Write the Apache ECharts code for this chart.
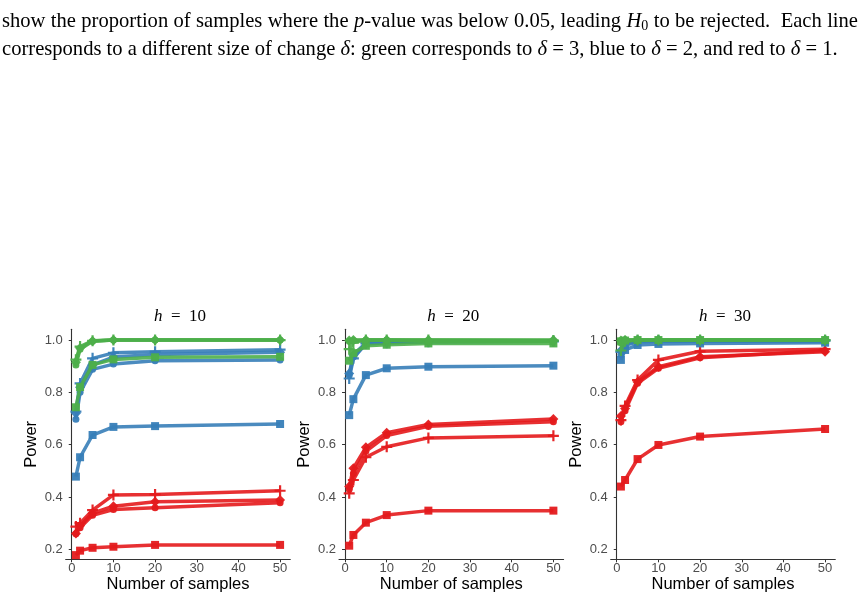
<!DOCTYPE html>
<html>
<head>
<meta charset="utf-8">
<script src="https://cdn.jsdelivr.net/npm/echarts@6/dist/echarts.min.js"></script>
<style>
  html, body { margin: 0; padding: 0; background: #fff; }
  #chart { width: 863px; height: 600px; }
</style>
</head>
<body>
<div id="chart"></div>
<script>
// sample sizes on the x axis
const xs = [1, 2, 5, 10, 20, 50];
const xTicks = [0, 10, 20, 30, 40, 50];
const yTicks = [0.2, 0.4, 0.6, 0.8, 1.0];
const panelTitles = ['10', '20', '30'];
// one line per method: square, plus, diamond, circle

// h = 10
const h10Red = [
    [0.178, 0.195, 0.206, 0.210, 0.217, 0.217],
    [0.287, 0.300, 0.350, 0.408, 0.410, 0.424],
    [0.261, 0.290, 0.338, 0.365, 0.382, 0.389],
    [0.260, 0.283, 0.330, 0.352, 0.359, 0.378]
];
const h10Blue = [
    [0.478, 0.552, 0.637, 0.668, 0.671, 0.679],
    [0.726, 0.834, 0.930, 0.951, 0.955, 0.963],
    [0.720, 0.820, 0.905, 0.935, 0.945, 0.953],
    [0.697, 0.800, 0.888, 0.908, 0.921, 0.924]
];
const h10Green = [
    [0.743, 0.820, 0.905, 0.926, 0.934, 0.936],
    [0.925, 0.975, 0.997, 1.000, 1.000, 1.000],
    [0.915, 0.970, 0.996, 1.000, 1.000, 1.000],
    [0.905, 0.965, 0.995, 1.000, 1.000, 1.000]
];

// h = 20
const h20Red = [
    [0.214, 0.255, 0.302, 0.331, 0.348, 0.348],
    [0.414, 0.465, 0.552, 0.592, 0.626, 0.634],
    [0.440, 0.510, 0.590, 0.646, 0.677, 0.698],
    [0.430, 0.490, 0.575, 0.635, 0.670, 0.688]
];
const h20Blue = [
    [0.713, 0.774, 0.866, 0.892, 0.898, 0.902],
    [0.853, 0.930, 0.987, 0.990, 0.993, 0.995],
    [0.872, 0.943, 0.990, 0.992, 0.995, 0.996],
    [0.865, 0.935, 0.985, 0.990, 0.993, 0.995]
];
const h20Green = [
    [0.921, 0.950, 0.978, 0.982, 0.987, 0.987],
    [0.965, 0.990, 1.000, 1.000, 1.000, 0.998],
    [0.998, 1.000, 1.000, 1.000, 1.000, 1.000],
    [0.995, 0.998, 1.000, 1.000, 0.995, 0.995]
];

// h = 30
const h30Red = [
    [0.440, 0.465, 0.545, 0.599, 0.631, 0.660],
    [0.694, 0.748, 0.847, 0.924, 0.957, 0.965],
    [0.710, 0.738, 0.840, 0.898, 0.936, 0.955],
    [0.688, 0.730, 0.835, 0.892, 0.932, 0.960]
];
const h30Blue = [
    [0.924, 0.962, 0.981, 0.985, 0.987, 0.990],
    [0.955, 0.990, 0.997, 0.998, 0.998, 0.998],
    [0.960, 0.985, 0.995, 0.997, 0.997, 0.997],
    [0.945, 0.980, 0.993, 0.995, 0.996, 0.996]
];
const h30Green = [
    [0.995, 0.998, 1.000, 1.000, 1.000, 1.000],
    [0.960, 0.995, 1.000, 1.000, 1.000, 1.000],
    [0.998, 1.000, 1.000, 1.000, 1.000, 1.000],
    [0.990, 1.000, 1.000, 1.000, 1.000, 1.000]
];

const captionLine1 = [
    ['show the proportion of samples where the ', 'n'], ['p', 'i'],
    ['-value was below 0.05, leading ', 'n'], ['H', 'i'], ['0', 's'],
    [' to be rejected.  Each line', 'n']
];
const captionLine2 = [
    ['corresponds to a different size of change ', 'n'], ['δ', 'i'],
    [': green corresponds to ', 'n'], ['δ', 'i'], [' = 3, blue to ', 'n'], ['δ', 'i'],
    [' = 2, and red to ', 'n'], ['δ', 'i'], [' = 1.', 'n']
];

const panels = [
    { title: panelTitles[0], red: h10Red, blue: h10Blue, green: h10Green },
    { title: panelTitles[1], red: h20Red, blue: h20Blue, green: h20Green },
    { title: panelTitles[2], red: h30Red, blue: h30Blue, green: h30Green }
];

const colors = { red: '#E41A1C', blue: '#377EB8', green: '#4DAF4A' };
const plusPath = 'path://M4,0H6V4H10V6H6V10H4V6H0V4H4Z';
const symbols = ['rect', plusPath, 'diamond', 'circle'];
const symbolSizes = [8, 11, 10, 7];

const gridLefts = [65.7, 339, 610.7];
const gridTop = 329.3, gridW = 224.6, gridH = 230;

const chart = echarts.init(document.getElementById('chart'), null, { renderer: 'canvas' });

// --- caption text, laid out word by word so the first line is justified
const measureCtx = document.createElement('canvas').getContext('2d');
const serif = '"Liberation Serif", "DejaVu Serif", serif';
function fontFor(st, size) {
    if (st === 'i') return 'italic ' + size + 'px ' + serif;
    if (st === 's') return Math.round(size * 0.7) + 'px ' + serif;
    return size + 'px ' + serif;
}
function textWidth(str, font) {
    measureCtx.font = font;
    return measureCtx.measureText(str).width;
}
function splitPieces(segs) {
    const out = [];
    segs.forEach(([t, st]) => t.split(/( +)/).forEach(p => { if (p) out.push([p, st]); }));
    return out;
}
function naturalWidth(pieces, size) {
    return pieces.reduce((s, [p, st]) => s + textWidth(p, fontFor(st, size)), 0);
}

const line2Pieces = splitPieces(captionLine2);
const capSize = 17 * 836 / naturalWidth(line2Pieces, 17);

function layoutLine(pieces, x0, yMid, target) {
    const els = [];
    const gaps = pieces.filter(p => /^ +$/.test(p[0])).length;
    const extra = target ? (target - naturalWidth(pieces, capSize)) / gaps : 0;
    let x = x0;
    pieces.forEach(([p, st]) => {
        const f = fontFor(st, capSize);
        const w = textWidth(p, f);
        if (/^ +$/.test(p)) { x += w + extra; return; }
        els.push({
            type: 'text', x: x, y: st === 's' ? yMid + 4 : yMid, silent: true,
            style: { text: p, font: f, fill: '#000', verticalAlign: 'middle', align: 'left' }
        });
        x += w;
    });
    return els;
}

const graphics = []
    .concat(layoutLine(splitPieces(captionLine1), 2, 22, 856))
    .concat(layoutLine(line2Pieces, 2, 50, 0));

// panel titles, e.g. "h = 10"
panels.forEach((p, i) => {
    graphics.push({
        type: 'text', x: gridLefts[i] + gridW / 2 + 2, y: 317, silent: true,
        style: {
            text: '{i|h}{n|  =  ' + p.title + '}',
            align: 'center', verticalAlign: 'middle',
            rich: {
                i: { font: 'italic 17px ' + serif, fill: '#000' },
                n: { font: '17px ' + serif, fill: '#000' }
            }
        }
    });
});

const axisColor = '#333';
const grids = [], xAxes = [], yAxes = [], series = [];

panels.forEach((p, i) => {
    grids.push({
        left: gridLefts[i], top: gridTop, width: gridW, height: gridH,
        containLabel: false, outerBoundsMode: 'none'
    });
    xAxes.push({
        type: 'value', gridIndex: i, min: -1.45, max: 52.45,
        name: 'Number of samples', nameLocation: 'middle', nameGap: 17,
        nameTextStyle: { fontSize: 16.5, color: '#000' },
        axisLine: { show: true, lineStyle: { color: axisColor, width: 1.1 } },
        axisTick: { show: true, length: 3, lineStyle: { color: axisColor }, customValues: xTicks },
        axisLabel: { color: '#4D4D4D', fontSize: 13, margin: 3, customValues: xTicks },
        splitLine: { show: false }
    });
    yAxes.push({
        type: 'value', gridIndex: i, min: 0.162, max: 1.041,
        name: 'Power', nameLocation: 'middle', nameGap: 26,
        nameTextStyle: { fontSize: 16.5, color: '#000' },
        axisLine: { show: true, lineStyle: { color: axisColor, width: 1.1 } },
        axisTick: { show: true, length: 3, lineStyle: { color: axisColor }, customValues: yTicks },
        axisLabel: {
            color: '#4D4D4D', fontSize: 13, margin: 3, customValues: yTicks,
            formatter: v => v.toFixed(1)
        },
        splitLine: { show: false }
    });
    ['red', 'blue', 'green'].forEach((c, ci) => {
        p[c].forEach((vals, m) => {
            series.push({
                type: 'line', xAxisIndex: i, yAxisIndex: i,
                data: xs.map((x, k) => [x, vals[k]]),
                symbol: symbols[m], symbolSize: symbolSizes[m], showSymbol: true,
                lineStyle: { width: 3.5, color: colors[c], opacity: 0.9 },
                itemStyle: { color: colors[c], opacity: 0.95 },
                z: 2 + ci, silent: true
            });
        });
    });
});

chart.setOption({
    animation: false,
    textStyle: { fontFamily: '"Liberation Sans", Arial, sans-serif' },
    grid: grids,
    xAxis: xAxes,
    yAxis: yAxes,
    series: series,
    graphic: graphics
});
</script>
</body>
</html>
